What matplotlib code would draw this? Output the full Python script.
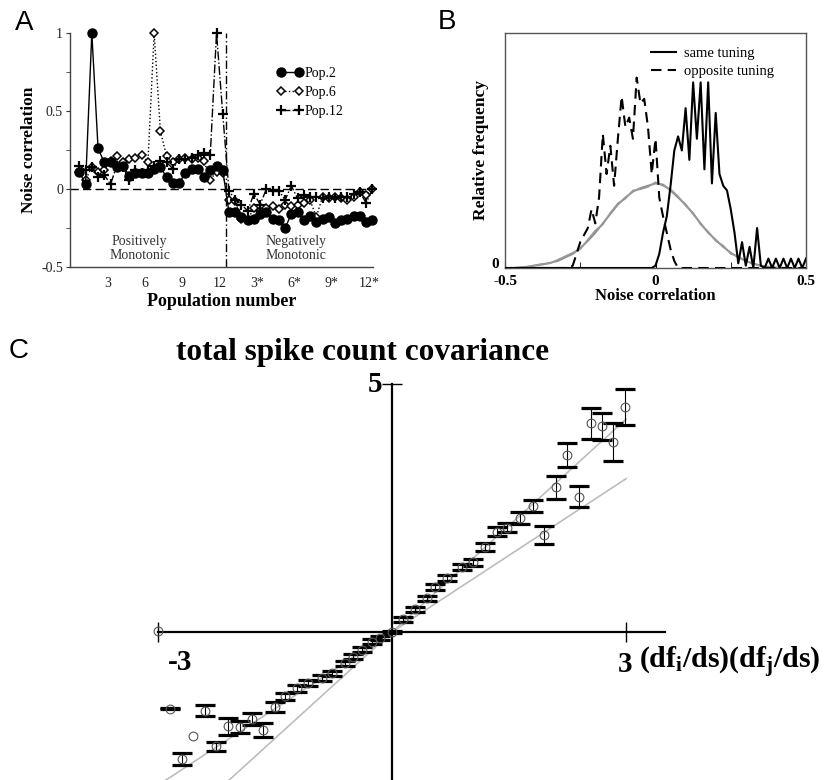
import numpy as np
import matplotlib
matplotlib.use("Agg")
import matplotlib.pyplot as plt

SERIF = "Liberation Serif"
SANS = "Liberation Sans"
plt.rcParams['font.family'] = [SERIF, 'DejaVu Serif']
plt.rcParams['mathtext.fontset'] = 'custom'
plt.rcParams['mathtext.rm'] = SERIF
plt.rcParams['mathtext.bf'] = SERIF + ':bold'
plt.rcParams['mathtext.it'] = SERIF + ':italic'

# ---------------- Panel A data ----------------
popA_x = list(np.arange(48) * 0.5 + 0.75)
pop2 = [0.11, 0.03, 1.00, 0.26, 0.17, 0.17, 0.14, 0.15, 0.085, 0.10, 0.10, 0.10,
        0.13, 0.14, 0.075, 0.04, 0.04, 0.10, 0.13, 0.13, 0.075, 0.12, 0.15, 0.12,
        -0.15, -0.15, -0.18, -0.20, -0.19, -0.16, -0.15, -0.19, -0.20, -0.25, -0.16, -0.15,
        -0.20, -0.17, -0.21, -0.19, -0.18, -0.22, -0.20, -0.19, -0.17, -0.17, -0.21, -0.20]
pop6 = [0.11, 0.06, 0.14, 0.11, 0.12, 0.18, 0.21, 0.17, 0.19, 0.20, 0.22, 0.17,
        1.00, 0.37, 0.21, 0.17, 0.19, 0.20, 0.19, 0.20, 0.18, 0.06, 0.11, 0.10,
        -0.07, -0.08, -0.19, -0.20, -0.12, -0.14, -0.12, -0.11, -0.13, -0.10, -0.11, -0.10,
        -0.09, -0.07, -0.18, -0.05, -0.06, -0.05, -0.06, -0.07, -0.05, -0.02, -0.04, 0.00]
pop12 = [0.15, 0.12, 0.14, 0.08, 0.09, 0.03, 0.15, 0.14, 0.06, 0.12, 0.10, 0.12,
         0.15, 0.18, 0.17, 0.13, 0.19, 0.19, 0.20, 0.22, 0.23, 0.22, 1.00, 0.48,
         -0.01, -0.07, -0.10, -0.14, -0.03, -0.10, 0.00, -0.01, -0.01, -0.07, 0.02, -0.06,
         -0.04, -0.05, -0.05, -0.06, -0.05, -0.06, -0.05, -0.05, -0.03, -0.02, -0.09, 0.00]
A_tick_pos = [3, 6, 9, 12, 15, 18, 21, 24]
A_tick_lab = ['3', '6', '9', '12', '3*', '6*', '9*', '12*']
A_boundary = 12.5

# ---------------- Panel B data ----------------
B_x = list(np.round(np.arange(81) * 0.0125 - 0.5, 4))
same_tuning = [0.0] * 40 + [0.01, 0.06, 0.15, 0.22, 0.35, 0.50, 0.56, 0.50, 0.68, 0.46,
                            0.79, 0.55, 0.79, 0.42, 0.79, 0.36, 0.66, 0.40, 0.35, 0.33,
                            0.25, 0.15, 0.02, 0.11, 0.01, 0.09, 0.00, 0.17, 0.01, 0.00,
                            0.04, 0.00, 0.04, 0.00, 0.04, 0.00, 0.04, 0.00, 0.04, 0.00, 0.04]
opposite_tuning = [0.0] * 18 + [0.01, 0.06, 0.11, 0.14, 0.17, 0.25, 0.19, 0.30, 0.57, 0.40,
                                0.52, 0.35, 0.55, 0.73, 0.60, 0.64, 0.55, 0.81, 0.70, 0.72,
                                0.60, 0.40, 0.55, 0.30, 0.22, 0.15, 0.08, 0.03, 0.0] + [0.0] * 34
B_gx = list(np.round(np.arange(41) * 0.025 - 0.5, 4))
gray_a = [0.0, 0.0, 0.002, 0.005, 0.01, 0.015, 0.022, 0.03, 0.045, 0.06, 0.085, 0.115,
          0.15, 0.19, 0.23, 0.27, 0.30, 0.325, 0.34, 0.35, 0.36, 0.355, 0.33, 0.30,
          0.27, 0.23, 0.19, 0.15, 0.12, 0.09, 0.065, 0.045, 0.03, 0.018, 0.01, 0.005,
          0.002, 0.0, 0.0, 0.0, 0.0]
gray_b = [0.0, 0.0, 0.003, 0.006, 0.012, 0.018, 0.02, 0.035, 0.05, 0.065, 0.08, 0.12,
          0.16, 0.185, 0.235, 0.275, 0.295, 0.33, 0.335, 0.345, 0.365, 0.35, 0.335, 0.305,
          0.265, 0.235, 0.185, 0.155, 0.115, 0.095, 0.06, 0.05, 0.028, 0.02, 0.008, 0.006,
          0.001, 0.0, 0.0, 0.0, 0.0]

# ---------------- Panel C data ----------------
C_x = [-3.00, -2.85, -2.69, -2.55, -2.40, -2.26, -2.10, -1.95, -1.80, -1.65, -1.50,
       -1.37, -1.22, -1.08, -0.90, -0.77, -0.60, -0.50, -0.38, -0.26, -0.15, 0.00,
       0.14, 0.29, 0.45, 0.55, 0.71, 0.90, 1.04, 1.19, 1.35, 1.47, 1.64, 1.81,
       1.95, 2.10, 2.24, 2.40, 2.55, 2.69, 2.83, 2.99]
C_y = [0.02, -1.55, -2.56, -2.10, -1.59, -2.30, -1.90, -1.91, -1.76, -1.98, -1.51,
       -1.30, -1.13, -1.03, -0.93, -0.83, -0.63, -0.50, -0.36, -0.20, -0.12, 0.00,
       0.26, 0.46, 0.68, 0.91, 1.09, 1.31, 1.41, 1.71, 2.02, 2.10, 2.30, 2.54,
       1.96, 2.92, 3.57, 2.73, 4.21, 4.15, 3.83, 4.54]
C_err = [0.00, 0.01, 0.12, 0.00, 0.11, 0.09, 0.17, 0.12, 0.12, 0.14, 0.10,
         0.08, 0.07, 0.06, 0.06, 0.05, 0.05, 0.05, 0.05, 0.05, 0.04, 0.03,
         0.05, 0.05, 0.05, 0.06, 0.06, 0.07, 0.07, 0.08, 0.09, 0.09, 0.12, 0.13,
         0.18, 0.23, 0.25, 0.21, 0.31, 0.27, 0.38, 0.36]
fit_slopes = [1.03, 1.43]
fit_xrange = [-2.95, 3.0]

# ---------------- Figure ----------------
fig = plt.figure(figsize=(8.32, 7.8), dpi=100)

def px_ax(l, t, r, b):
    W, H = 832.0, 780.0
    return fig.add_axes([l / W, 1 - b / H, (r - l) / W, (b - t) / H])

# Panel A
axA = px_ax(70, 33, 373, 267)
axA.plot(popA_x, pop2, '-', color='black', lw=1.0, marker='o', ms=6.5,
         mfc='black', mec='black', label='Pop.2', zorder=4, clip_on=False)
axA.plot(popA_x, pop6, ':', color='black', lw=1.0, marker='D', ms=4.5,
         mfc='white', mec='black', mew=1.1, label='Pop.6', zorder=3, clip_on=False)
axA.plot(popA_x, pop12, '-.', color='black', lw=1.0, marker='+', ms=7,
         mec='black', mew=1.6, label='Pop.12', zorder=3, clip_on=False)
axA.axhline(0, color='black', lw=1.0, dashes=(6, 3), zorder=1)
axA.axvline(A_boundary, color='black', lw=1.0, dashes=(6, 2, 1, 2), zorder=1)
axA.set_xlim(0, 24.3)
axA.set_ylim(-0.5, 1.0)
for s in ['top', 'right']:
    axA.spines[s].set_visible(False)
for s in ['left', 'bottom']:
    axA.spines[s].set_color('#444444')
    axA.spines[s].set_linewidth(1.0)
axA.set_yticks([-0.5, 0, 0.5, 1])
axA.set_yticklabels(['-0.5', '0', '0.5', '1'])
axA.set_yticks([-0.25, 0.25, 0.75], minor=True)
axA.tick_params(axis='y', which='both', direction='out', length=3, labelsize=10, pad=2, colors='#333333')
axA.set_xticks(A_tick_pos)
axA.set_xticklabels(A_tick_lab)
axA.tick_params(axis='x', length=0, labelsize=10, pad=7, colors='#333333')
for t in axA.get_xticklabels() + axA.get_yticklabels():
    t.set_color('#222222')
axA.set_ylabel('Noise correlation', fontsize=12.5, fontweight='bold', labelpad=3)
axA.set_xlabel('Population number', fontsize=13, fontweight='bold', labelpad=2)
axA.text(5.6, -0.38, 'Positively\nMonotonic', ha='center', va='center', fontsize=10,
         color='#333333', linespacing=1.05)
axA.text(18.1, -0.38, 'Negatively\nMonotonic', ha='center', va='center', fontsize=10,
         color='#333333', linespacing=1.05)
axA.legend(loc='upper left', bbox_to_anchor=(0.665, 0.88), frameon=False,
           fontsize=10, handlelength=1.9, handletextpad=0.1, labelspacing=0.45,
           numpoints=2, borderaxespad=0)

# Panel B
axB = px_ax(505, 33, 806, 268)
axB.plot(B_gx, gray_a, color='#8c8c8c', lw=1.4, zorder=2)
axB.plot(B_gx, gray_b, color='#9a9a9a', lw=1.2, zorder=2)
axB.plot(B_x, same_tuning, '-', color='black', lw=1.5, zorder=3, label='same tuning')
axB.plot(B_x, opposite_tuning, color='black', lw=1.5, dashes=(5, 3), zorder=3,
         label='opposite tuning')
axB.set_xlim(-0.5, 0.5)
axB.set_ylim(0, 1.0)
for s in axB.spines.values():
    s.set_color('#555555')
    s.set_linewidth(1.0)
axB.set_xticks([-0.5, 0, 0.5])
axB.set_xticklabels(['-0.5', '0', '0.5'])
axB.set_xticks([-0.25, 0.25], minor=True)
axB.set_yticks([0])
axB.set_yticklabels(['0'])
axB.tick_params(which='both', direction='in', length=4, labelsize=11)
axB.tick_params(axis='x', pad=5)
axB.tick_params(axis='y', pad=4)
for t in axB.get_xticklabels() + axB.get_yticklabels():
    t.set_fontweight('bold')
axB.get_yticklabels()[0].set_verticalalignment('baseline')
axB.set_ylabel('Relative frequency', fontsize=12.5, fontweight='bold', labelpad=2)
axB.set_xlabel('Noise correlation', fontsize=12, fontweight='bold', labelpad=0)
axB.legend(loc='upper left', bbox_to_anchor=(0.465, 0.965), frameon=False, fontsize=10.5,
           handlelength=1.7, handletextpad=0.6, labelspacing=0.3, borderaxespad=0)

# Panel C
axC = px_ax(140, 375, 700, 780)
x0px, y0px, sx, sy = 392.0, 632.0, 78.0, 49.6
axC.set_xlim((140 - x0px) / sx, (700 - x0px) / sx)
axC.set_ylim((y0px - 780) / sy, (y0px - 375) / sy)
axC.spines['left'].set_position('zero')
axC.spines['bottom'].set_position('zero')
axC.spines['top'].set_visible(False)
axC.spines['right'].set_visible(False)
axC.spines['left'].set_bounds((y0px - 780) / sy, 5)
axC.spines['bottom'].set_bounds(-3, 3.5)
for s in ['left', 'bottom']:
    axC.spines[s].set_linewidth(1.6)
axC.set_xticks([-3, 3])
axC.set_yticks([5])
axC.tick_params(direction='inout', length=15, width=1.0, labelleft=False, labelbottom=False)
Cx = np.array(C_x)
Cy = np.array(C_y)
Ce = np.array(C_err)
slx = np.array(fit_xrange)
for sl in fit_slopes:
    axC.plot(slx, sl * slx, color='#bdbdbd', lw=1.2, zorder=1)
m = Ce > 0
axC.errorbar(Cx[m], Cy[m], yerr=Ce[m], fmt='none', ecolor='black', elinewidth=0.8,
             capsize=7.5, capthick=2.3, zorder=2)
axC.plot(Cx, Cy, 'o', mfc='none', mec='#555555', ms=6.3, mew=0.8, zorder=3, clip_on=False)
axC.text(-0.22, 5.0, '5', ha='center', va='center', fontsize=21, fontweight='bold')
axC.text(-2.72, -0.62, '-3', ha='center', va='center', fontsize=21, fontweight='bold')
axC.text(2.99, -0.65, '3', ha='center', va='center', fontsize=21, fontweight='bold')
axC.text(3.17, -0.62, r'$\mathbf{(df_{i}/ds)(df_{j}/ds)}$', ha='left', va='center',
         fontsize=21.5, clip_on=False)
fig.text(363 / 832, 1 - 353 / 780, 'total spike count covariance', ha='center', va='center',
         fontsize=22.5, fontweight='bold')

# Panel letters
fig.text(24 / 832, 1 - 23 / 780, 'A', ha='center', va='center', fontsize=20, family=SANS)
fig.text(447 / 832, 1 - 22 / 780, 'B', ha='center', va='center', fontsize=20, family=SANS)
fig.text(19 / 832, 1 - 351 / 780, 'C', ha='center', va='center', fontsize=20, family=SANS)

fig.savefig('out.png', dpi=100)
